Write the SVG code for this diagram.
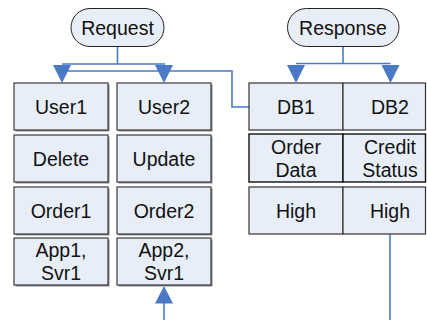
<svg xmlns="http://www.w3.org/2000/svg" width="427" height="320" viewBox="0 0 427 320">
  <defs>
    <style>
      text { font-family: "Liberation Sans", Arial, sans-serif; font-size: 19.5px; fill: #111; text-anchor: middle; }
      .pill { fill: #E8EEF8; stroke: #222; stroke-width: 1; }
      .box { fill: #E8EEF8; stroke: #3a3a3a; stroke-width: 1.2; }
      .shadow { fill: #8a8a8a; }
      .cell { fill: #E8EEF8; stroke: #333; stroke-width: 1.2; }
      .cell2 { fill: #E8EEF8; stroke: #111; stroke-width: 1.4; }
      .wire { fill: none; stroke: #4A7AC6; stroke-width: 1.6; }
      .head { fill: #4A7AC6; }
    </style>
  </defs>

  <rect width="427" height="320" fill="#ffffff"/>

  <!-- connectors -->
  <g id="connectors">
    <path class="wire" d="M117.5 47 V64 M62 64 H165 M62 71 H232 V107 H249"/>
    <polygon class="head" points="53,65 71,65 62,83"/>
    <polygon class="head" points="155,65 173,65 164,83"/>
    <path class="wire" d="M343 46 V63.5 M296 63.5 H390.5"/>
    <polygon class="head" points="287,65 305,65 296,83"/>
    <polygon class="head" points="381.5,65 399.5,65 390.5,83"/>
    <path class="wire" d="M164 320 V300"/>
    <polygon class="head" points="155,303.5 173,303.5 164,286"/>
    <path class="wire" d="M390 234 V320"/>
  </g>

  <!-- top terminals -->
  <g id="request">
    <rect class="pill" x="71" y="8.5" width="93" height="38" rx="19"/>
    <text x="117.5" y="34.5">Request</text>
  </g>
  <g id="response">
    <rect class="pill" x="287.5" y="8.5" width="111.5" height="38" rx="19"/>
    <text x="343" y="34.5">Response</text>
  </g>

  <!-- left column 1 -->
  <g id="user1">
    <rect class="shadow" x="15.5" y="84.5" width="94" height="47"/>
    <rect class="box" x="14" y="83" width="94" height="47"/>
    <text x="61" y="113.5">User1</text>
  </g>
  <g id="delete">
    <rect class="shadow" x="15.5" y="136.5" width="94" height="47"/>
    <rect class="box" x="14" y="135" width="94" height="47"/>
    <text x="61" y="165.5">Delete</text>
  </g>
  <g id="order1">
    <rect class="shadow" x="15.5" y="188.5" width="94" height="47"/>
    <rect class="box" x="14" y="187" width="94" height="47"/>
    <text x="61" y="217.5">Order1</text>
  </g>
  <g id="app1">
    <rect class="shadow" x="15.5" y="239.5" width="94" height="47"/>
    <rect class="box" x="14" y="238" width="94" height="47"/>
    <text x="61" y="257">App1,</text>
    <text x="61" y="280">Svr1</text>
  </g>

  <!-- left column 2 -->
  <g id="user2">
    <rect class="shadow" x="118.5" y="84.5" width="94" height="47"/>
    <rect class="box" x="117" y="83" width="94" height="47"/>
    <text x="164" y="113.5">User2</text>
  </g>
  <g id="update">
    <rect class="shadow" x="118.5" y="136.5" width="94" height="47"/>
    <rect class="box" x="117" y="135" width="94" height="47"/>
    <text x="164" y="165.5">Update</text>
  </g>
  <g id="order2">
    <rect class="shadow" x="118.5" y="188.5" width="94" height="47"/>
    <rect class="box" x="117" y="187" width="94" height="47"/>
    <text x="164" y="217.5">Order2</text>
  </g>
  <g id="app2">
    <rect class="shadow" x="118.5" y="239.5" width="94" height="47"/>
    <rect class="box" x="117" y="238" width="94" height="47"/>
    <text x="164" y="257">App2,</text>
    <text x="164" y="280">Svr1</text>
  </g>

  <!-- right table -->
  <g id="db1">
    <rect class="cell" x="249" y="83" width="94" height="47"/>
    <text x="296" y="113.5">DB1</text>
  </g>
  <g id="db2">
    <rect class="cell" x="343" y="83" width="82.5" height="47"/>
    <text x="390" y="113.5">DB2</text>
  </g>
  <g id="order-data">
    <rect class="cell2" x="249" y="134" width="94" height="48"/>
    <text x="296" y="153.5">Order</text>
    <text x="296" y="177">Data</text>
  </g>
  <g id="credit-status">
    <rect class="cell2" x="343" y="134" width="82.5" height="48"/>
    <text x="390" y="153.5">Credit</text>
    <text x="390" y="177">Status</text>
  </g>
  <g id="high1">
    <rect class="cell" x="249" y="187" width="94" height="47"/>
    <text x="296" y="217.5">High</text>
  </g>
  <g id="high2">
    <rect class="cell" x="343" y="187" width="82.5" height="47"/>
    <text x="390" y="217.5">High</text>
  </g>
</svg>
